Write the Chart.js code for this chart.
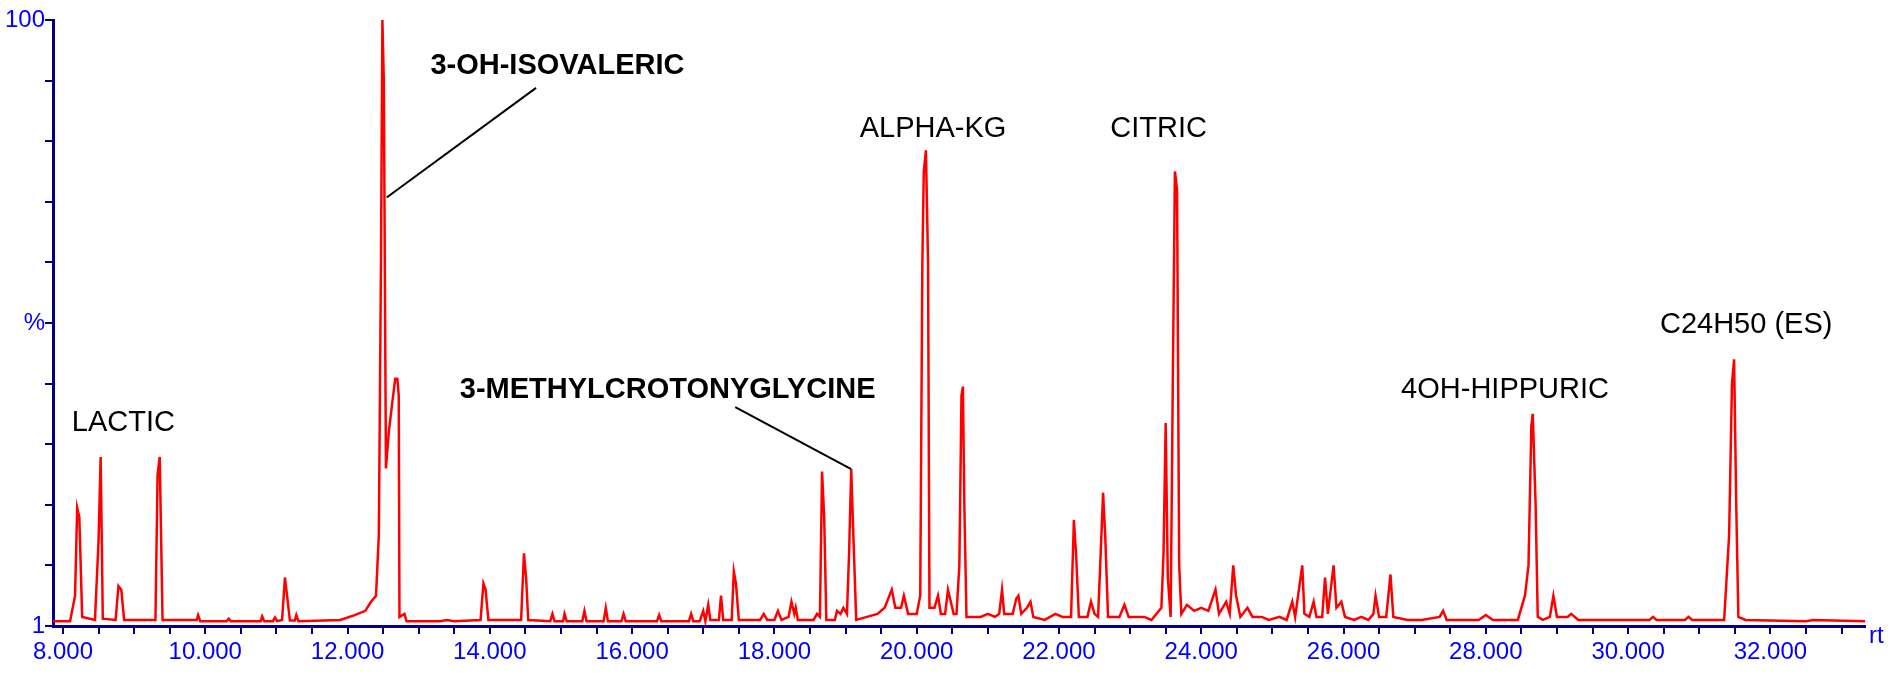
<!DOCTYPE html>
<html>
<head>
<meta charset="utf-8">
<script src="https://cdn.jsdelivr.net/npm/chart.js@4/dist/chart.umd.min.js"></script>
<style>
  html, body { margin: 0; padding: 0; background: #fff; }
  #wrap { width: 1895px; height: 675px; }
</style>
</head>
<body>
<div id="wrap"><canvas id="chrom"></canvas></div>
<script>
// retention time (min) and relative intensity (%)
const rt = [
  7.86, 8.10, 8.17, 8.20, 8.23, 8.27, 8.45, 8.50, 8.53, 8.56, 8.74, 8.78, 8.82, 8.86,
  9.30, 9.33, 9.36, 9.40, 9.88, 9.90, 9.93, 10.30, 10.33, 10.36, 10.78, 10.80, 10.83,
  10.95, 10.98, 11.01, 11.08, 11.12, 11.15, 11.19, 11.26, 11.28, 11.31, 11.90, 12.10,
  12.25, 12.33, 12.40, 12.44, 12.47, 12.49, 12.51, 12.54, 12.58, 12.63, 12.67, 12.70,
  12.72, 12.73, 12.80, 12.83, 13.30, 13.40, 13.50, 13.87, 13.91, 13.94, 13.98, 14.44,
  14.48, 14.51, 14.54, 14.85, 14.88, 14.91, 15.03, 15.05, 15.08, 15.30, 15.33, 15.36,
  15.60, 15.63, 15.66, 15.85, 15.88, 15.91, 16.35, 16.38, 16.41, 16.80, 16.83, 16.86,
  16.95, 17.00, 17.03, 17.07, 17.10, 17.22, 17.25, 17.28, 17.40, 17.43, 17.46, 17.50,
  17.80, 17.85, 17.90, 18.00, 18.05, 18.10, 18.20, 18.24, 18.28, 18.30, 18.33, 18.55,
  18.60, 18.64, 18.67, 18.70, 18.73, 18.85, 18.88, 18.93, 18.97, 19.02, 19.05, 19.08,
  19.11, 19.15, 19.30, 19.45, 19.55, 19.65, 19.70, 19.78, 19.82, 19.88, 20.00, 20.05,
  20.08, 20.10, 20.13, 20.16, 20.18, 20.25, 20.30, 20.34, 20.40, 20.44, 20.47, 20.52,
  20.56, 20.60, 20.63, 20.65, 20.67, 20.70, 20.90, 21.00, 21.10, 21.16, 21.20, 21.23,
  21.35, 21.40, 21.43, 21.47, 21.55, 21.60, 21.64, 21.80, 21.95, 22.05, 22.17, 22.21,
  22.24, 22.28, 22.40, 22.45, 22.50, 22.55, 22.58, 22.62, 22.65, 22.69, 22.85, 22.92,
  22.98, 23.20, 23.30, 23.44, 23.47, 23.50, 23.53, 23.57, 23.60, 23.63, 23.66, 23.69,
  23.72, 23.80, 23.90, 24.00, 24.10, 24.20, 24.25, 24.35, 24.40, 24.45, 24.49, 24.55,
  24.65, 24.72, 24.85, 24.95, 25.10, 25.20, 25.28, 25.32, 25.42, 25.45, 25.52, 25.58,
  25.62, 25.70, 25.74, 25.78, 25.86, 25.90, 25.97, 26.02, 26.15, 26.25, 26.35, 26.42,
  26.45, 26.50, 26.60, 26.66, 26.70, 26.90, 27.10, 27.35, 27.40, 27.45, 27.90, 28.00,
  28.10, 28.30, 28.45, 28.55, 28.60, 28.64, 28.66, 28.70, 28.73, 28.80, 28.90, 28.95,
  29.00, 29.15, 29.20, 29.30, 30.30, 30.35, 30.40, 30.80, 30.85, 30.90, 31.35, 31.42,
  31.46, 31.49, 31.52, 31.55, 31.65, 32.50, 32.60, 33.33
];
const intensity = [
  0.8, 0.8, 5, 19.5, 18, 1.5, 1, 14, 27.9, 1.2, 1, 6.6, 6, 1,
  1, 25, 27.9, 1, 1, 1.8, 0.8, 0.8, 1.2, 0.8, 0.8, 1.6, 0.8,
  0.8, 1.4, 0.8, 1, 8, 5, 0.9, 0.9, 1.8, 0.8, 1, 1.8,
  2.5, 4, 5, 15, 60, 100, 90, 26, 32, 37, 40.8, 40.8,
  38, 1.5, 2, 0.8, 0.8, 1, 0.8, 1, 7, 6, 1, 1,
  12, 8, 1, 0.8, 2, 0.8, 0.8, 2, 0.8, 0.8, 2.5, 0.8,
  0.8, 3, 0.8, 0.8, 2, 0.8, 0.8, 1.8, 0.8, 0.8, 2, 0.8,
  0.8, 2.5, 0.8, 3.5, 1, 1, 5, 1, 1, 9, 7, 1,
  1, 2, 1, 1, 2.5, 1, 1.5, 4, 2, 3, 1, 1,
  2, 1.5, 25.5, 18, 1, 1, 2.5, 2, 3, 2, 12, 25.9,
  15, 1, 1.5, 2, 3, 6, 3, 3, 5, 2, 2, 5,
  60, 75, 78.5, 60, 3, 3, 5, 2, 2, 6, 4.5, 2,
  2, 10, 38, 39.5, 20, 1.5, 1.5, 2, 1.5, 2, 6, 2,
  2, 4.5, 5, 2, 3, 4, 1.5, 1, 2, 1.5, 1.5, 17.5,
  12, 1.5, 1.5, 4, 2, 1.5, 10, 22, 15, 1.5, 1.5, 3.5,
  1.5, 1.5, 1, 3, 12, 33.5, 8, 1.5, 40, 75, 72, 10,
  2, 3.5, 2.5, 3, 2.5, 6, 2, 4, 2, 10, 5, 1.5,
  3, 1.5, 1.5, 1, 1.5, 1, 4, 1.5, 10, 2, 1.5, 4,
  1.5, 1.5, 8, 2, 10, 3, 4, 1.5, 1, 1.5, 1, 2,
  5, 1.5, 1.5, 8.5, 1.5, 1, 1, 1.5, 2.5, 1, 1, 1.8,
  1, 1, 1, 5, 10, 33, 35, 20, 1.5, 1, 1.5, 5,
  1.5, 1.5, 2, 1, 1, 1.5, 1, 1, 1.5, 1, 1, 15,
  40, 44, 20, 1.5, 1, 0.8, 1, 0.8
];

// peak labels: text, rt, intensity, bold
const peakNames = ['LACTIC', '3-OH-ISOVALERIC', '3-METHYLCROTONYGLYCINE', 'ALPHA-KG', 'CITRIC', '4OH-HIPPURIC', 'C24H50 (ES)'];
const labelRt = [8.85, 14.95, 16.5, 20.23, 23.4, 28.27, 31.66];
const labelInt = [33.5, 92.4, 39, 82, 82, 39, 49.6];
const labelBold = [false, true, true, false, false, false, false];

// leader lines [rt1, int1, rt2, int2]
const leaders = [
  [14.65, 88.8, 12.55, 70.7],
  [17.45, 36.1, 19.08, 25.9]
];

const NAVY = '#000080';
const BLUE = '#0000ff';

const annotate = {
  id: 'annotate',
  afterDatasetsDraw(chart) {
    const { ctx, scales: { x, y } } = chart;
    ctx.save();
    ctx.strokeStyle = '#000';
    ctx.lineWidth = 2;
    leaders.forEach(l => {
      ctx.beginPath();
      ctx.moveTo(x.getPixelForValue(l[0]), y.getPixelForValue(l[1]));
      ctx.lineTo(x.getPixelForValue(l[2]), y.getPixelForValue(l[3]));
      ctx.stroke();
    });
    ctx.fillStyle = '#000';
    ctx.textAlign = 'center';
    ctx.textBaseline = 'middle';
    peakNames.forEach((name, i) => {
      ctx.font = (labelBold[i] ? 'bold ' : '') + '29px "Liberation Sans", Arial, sans-serif';
      ctx.fillText(name, x.getPixelForValue(labelRt[i]), y.getPixelForValue(labelInt[i]));
    });
    ctx.fillStyle = BLUE;
    ctx.font = '24px "Liberation Sans", Arial, sans-serif';
    ctx.textAlign = 'left';
    ctx.fillText('rt', x.right + 4, y.bottom + 10);
    ctx.restore();
  }
};

new Chart(document.getElementById('chrom'), {
  type: 'line',
  data: {
    datasets: [{
      data: rt.map((t, i) => ({ x: t, y: intensity[i] })),
      borderColor: '#ff0000',
      borderWidth: 2.5,
      pointRadius: 0,
      tension: 0,
      fill: false
    }]
  },
  options: {
    responsive: true,
    maintainAspectRatio: false,
    animation: false,
    layout: { padding: { top: 20, right: 30, left: 0, bottom: 0 } },
    plugins: { legend: { display: false }, tooltip: { enabled: false } },
    scales: {
      x: {
        type: 'linear',
        min: 7.86,
        max: 33.33,
        border: { color: NAVY, width: 3 },
        grid: { drawOnChartArea: false, drawTicks: true, tickLength: 8, color: NAVY, lineWidth: 2 },
        afterBuildTicks(axis) {
          const t = [];
          for (let v = 8; v <= 33; v += 0.5) t.push({ value: v });
          axis.ticks = t;
        },
        ticks: {
          autoSkip: false,
          maxRotation: 0,
          color: BLUE,
          font: { size: 24, family: '"Liberation Sans", Arial, sans-serif' },
          padding: 4,
          callback: v => (Math.abs(v % 2) < 1e-6 ? v.toFixed(3) : '')
        },
        afterFit(axis) { axis.height = 49; }
      },
      y: {
        min: 0,
        max: 100,
        border: { color: NAVY, width: 3 },
        grid: { drawOnChartArea: false, drawTicks: true, tickLength: 8, color: NAVY, lineWidth: 2 },
        ticks: {
          stepSize: 10,
          color: BLUE,
          padding: 0,
          font: { size: 24, family: '"Liberation Sans", Arial, sans-serif' },
          callback: v => (v === 0 ? '1' : v === 50 ? '%' : v === 100 ? '100' : '')
        },
        afterFit(axis) { axis.width = 53; }
      }
    }
  },
  plugins: [annotate]
});
</script>
</body>
</html>
